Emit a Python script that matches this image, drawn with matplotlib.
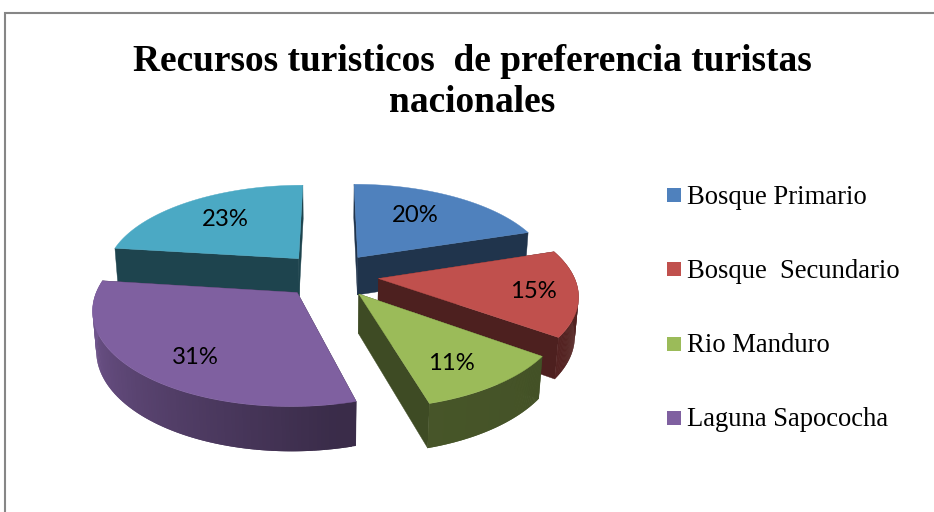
import numpy as np
import matplotlib
matplotlib.use("Agg")
import matplotlib.pyplot as plt
from matplotlib.patches import Polygon, Rectangle
from matplotlib.colors import to_rgb

categories = ["Bosque Primario", "Bosque  Secundario", "Rio Manduro", "Laguna Sapococha", "Otros"]
values = [20, 15, 10.6, 31.4, 23]
legend_labels = categories[:4]
title = "Recursos turisticos  de preferencia turistas\nnacionales"

colors = ["#4F81BD", "#C0504D", "#9BBB59", "#7F60A0", "#4BA9C4"]
label_xy = [(415, 215), (533, 291), (451, 363), (195, 358), (225, 219)]
legend_y = [195, 269, 344, 418]

# projection of the exploded, tilted pie
CX, CY, A, C, B, H, EXPLODE = 330, 275, 195, 89.8, 0.158, 39, 0.25


def project(x, y, z=0.0):
    w = 1 + B * y - 0.015 * z
    return CX + A * x / w, CY - (C * y + H * z) / w


fig = plt.figure(figsize=(9.34, 5.12), dpi=100)
ax = fig.add_axes([0, 0, 1, 1])
ax.set_xlim(0, 934)
ax.set_ylim(512, 0)
ax.axis("off")

# chart frame
ax.plot([5, 5, 934], [512, 13, 13], color="#868686", lw=1.5, solid_joinstyle="miter")


def shade(base, f):
    return tuple(c * f for c in to_rgb(base))


def rim_factor(deg):
    return np.interp(deg, [90, 170, 277], [0.42, 0.46, 0.95])


edges = np.cumsum([0] + values) / sum(values) * 360.0
# paint from the back of the scene to the front
order = [4, 0, 1, 2, 3]

for i in order:
    a0, a1 = edges[i], edges[i + 1]
    mid = np.radians((a0 + a1) / 2)
    ox, oy = EXPLODE * np.sin(mid), EXPLODE * np.cos(mid)
    col = colors[i]
    th = np.radians(np.linspace(a0, a1, 120))
    rx, ry = ox + np.sin(th), oy + np.cos(th)
    z = order.index(i)

    # radial walls
    for a in (a0, a1):
        ra = np.radians(a)
        ts = np.linspace(0, 1, 40)
        xs, ys = ox + ts * np.sin(ra), oy + ts * np.cos(ra)
        if i == 1 and a == a1:
            depth = np.interp(ts, [0, 0.9, 0.92, 1], [0.55, 0.6, 1, 1])
        else:
            depth = np.ones_like(ts)
        top = [project(x, y) for x, y in zip(xs, ys)]
        bot = [project(x, y, -d) for x, y, d in zip(xs, ys, depth)]
        ax.add_patch(Polygon(top + bot[::-1], closed=True, fc=shade(col, 0.4),
                             ec=shade(col, 0.4), lw=0.3, zorder=1 + z))

    # outer rim with angular shading; only the part facing the viewer
    for k in range(len(th) - 1):
        deg = np.degrees(th[k])
        if deg < 71.9 or deg >= a1 - 1e-6 or i == 4:
            continue
        k2 = min(k + 2, len(th) - 1)
        p = [project(rx[k], ry[k]), project(rx[k2], ry[k2]),
             project(rx[k2], ry[k2], -1), project(rx[k], ry[k], -1)]
        f = rim_factor(deg)
        ax.add_patch(Polygon(p, closed=True, fc=shade(col, f), ec="none",
                             zorder=1.2 + z + k * 1e-4))

    # top face
    face = [project(ox, oy)] + [project(x, y) for x, y in zip(rx, ry)]
    ax.add_patch(Polygon(face, closed=True, fc=col, ec=col, lw=0.3, zorder=1.4 + z))

# percentage labels
total = sum(values)
for v, (x, y) in zip(values, label_xy):
    ax.text(x, y, f"{round(100 * v / total)}%", family="Lato", fontsize=17.2,
            ha="center", va="center", color="black", zorder=20)

# title
ax.text(472, 82, title, family="Liberation Serif", weight="bold", fontsize=26.9,
        ha="center", va="center", linespacing=1.2, color="black", zorder=20)

# legend
for lab, c, y in zip(legend_labels, colors, legend_y):
    ax.add_patch(Rectangle((667, y - 7), 14, 14, fc=c, ec="none", zorder=20))
    ax.text(687, y + 2, lab, family="Liberation Serif", fontsize=19.2,
            ha="left", va="center", color="black", zorder=20)

fig.savefig("out.png", dpi=100)
